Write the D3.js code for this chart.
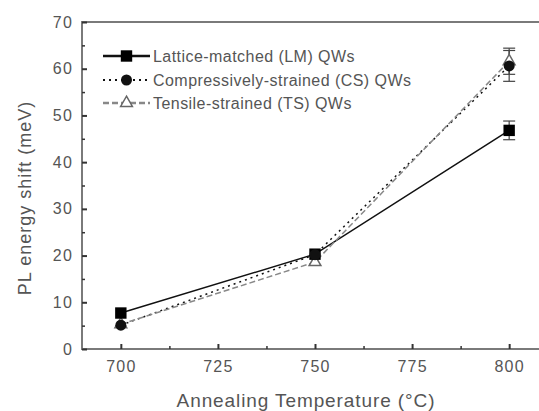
<!DOCTYPE html>
<html><head><meta charset="utf-8">
<script src="https://cdn.jsdelivr.net/npm/d3@7"></script>
<style>body{margin:0;background:#fff}svg{display:block}text{font-family:"Liberation Sans",Arial,sans-serif}</style>
</head><body><svg id="c" width="539" height="411"></svg>
<script>
const temps = [700, 750, 800];
const lmValues = [7.7, 20.3, 46.8];
const lmErrors = [0, 0, 2.0];
const csValues = [5.1, 20.2, 60.6];
const csErrors = [0, 0, 3.3];
const tsValues = [5.3, 18.6, 61.6];
const tsErrors = [0, 0, 2.8];
const xTicks = [700, 725, 750, 775, 800];
const yTicks = [0, 10, 20, 30, 40, 50, 60, 70];
const legendLabels = ["Lattice-matched (LM) QWs", "Compressively-strained (CS) QWs", "Tensile-strained (TS) QWs"];
const xLabel = "Annealing Temperature (\u00B0C)";
const yLabel = "PL energy shift (meV)";

const svg = d3.select("#c");
const x = d3.scaleLinear().domain([690, 810]).range([82, 548]);
const y = d3.scaleLinear().domain([0, 70]).range([349, 22]);
const axisCol = "#7a7a7a", textCol = "#555";

// frame
svg.append("rect").attr("x", x(690)).attr("y", y(70)).attr("width", x(810) - x(690)).attr("height", y(0) - y(70))
  .attr("fill", "none").attr("stroke", axisCol).attr("stroke-width", 2);

// bottom axis ticks (inward)
const xb = svg.append("g").attr("transform", `translate(0,${y(0)})`)
  .call(d3.axisBottom(x).tickValues(xTicks).tickSize(-5).tickPadding(12).tickFormat(d3.format("d")));
xb.select(".domain").remove();
xb.selectAll("line").attr("stroke", "#333").attr("stroke-width", 2);
xb.selectAll("text").attr("font-size", 16).attr("letter-spacing", 1.2).attr("fill", textCol);
const xMinor = d3.range(0, xTicks.length - 1).map(i => (xTicks[i] + xTicks[i + 1]) / 2);
const xm = svg.append("g").attr("transform", `translate(0,${y(0)})`)
  .call(d3.axisBottom(x).tickValues(xMinor).tickSize(-3).tickFormat(""));
xm.select(".domain").remove();
xm.selectAll("line").attr("stroke", "#333").attr("stroke-width", 1.5);

// left axis
const yl = svg.append("g").attr("transform", `translate(${x(690)},0)`)
  .call(d3.axisLeft(y).tickValues(yTicks).tickSize(-5).tickPadding(9).tickFormat(d3.format("d")));
yl.select(".domain").remove();
yl.selectAll("line").attr("stroke", "#333").attr("stroke-width", 2);
yl.selectAll("text").attr("font-size", 16).attr("letter-spacing", 1.2).attr("fill", textCol);
const yMinor = d3.range(0, yTicks.length - 1).map(i => (yTicks[i] + yTicks[i + 1]) / 2);
const ym = svg.append("g").attr("transform", `translate(${x(690)},0)`)
  .call(d3.axisLeft(y).tickValues(yMinor).tickSize(-3).tickFormat(""));
ym.select(".domain").remove();
ym.selectAll("line").attr("stroke", "#333").attr("stroke-width", 1.5);

// axis labels
svg.append("text").attr("x", 306).attr("y", 407).attr("text-anchor", "middle")
  .attr("font-size", 19).attr("letter-spacing", 0.9).attr("fill", textCol).text(xLabel);
svg.append("text").attr("transform", "translate(31,198) rotate(-90)").attr("text-anchor", "middle")
  .attr("font-size", 18).attr("letter-spacing", 1).attr("fill", textCol).text(yLabel);

const series = [
  {vals: lmValues, errs: lmErrors, color: "#111", dash: null, width: 1.5, marker: "square"},
  {vals: csValues, errs: csErrors, color: "#111", dash: "2,4", width: 1.5, marker: "circle"},
  {vals: tsValues, errs: tsErrors, color: "#888", dash: "6,3", width: 1.5, marker: "triangle"}
];
const line = d3.line().x((d, i) => x(temps[i])).y(d => y(d));

function drawMarker(g, type, cx, cy, col) {
  if (type === "square") {
    g.append("path").attr("d", d3.symbol(d3.symbolSquare, 130)()).attr("transform", `translate(${cx},${cy})`).attr("fill", "#000");
  } else if (type === "circle") {
    g.append("path").attr("d", d3.symbol(d3.symbolCircle, 95)()).attr("transform", `translate(${cx},${cy})`).attr("fill", "#111");
  } else {
    g.append("path").attr("d", d3.symbol(d3.symbolTriangle, 60)()).attr("transform", `translate(${cx},${cy})`)
      .attr("fill", "#fff").attr("stroke", "#666").attr("stroke-width", 1.5);
  }
}

// lines
series.forEach(s => {
  svg.append("path").attr("d", line(s.vals)).attr("fill", "none").attr("stroke", s.color)
    .attr("stroke-width", s.width).attr("stroke-dasharray", s.dash);
});
// error bars
series.forEach(s => {
  s.vals.forEach((v, i) => {
    if (!s.errs[i]) return;
    const g = svg.append("g").attr("stroke", "#444").attr("stroke-width", 1.2);
    const cx = x(temps[i]);
    g.append("line").attr("x1", cx).attr("x2", cx).attr("y1", y(v - s.errs[i])).attr("y2", y(v + s.errs[i]));
    [v - s.errs[i], v + s.errs[i]].forEach(e => g.append("line").attr("x1", cx - 6).attr("x2", cx + 6).attr("y1", y(e)).attr("y2", y(e)));
  });
});
// markers: TS first, then LM, CS on top
[2, 0, 1].forEach(k => {
  const s = series[k];
  s.vals.forEach((v, i) => drawMarker(svg, s.marker, x(temps[i]), y(v), s.color));
});

// legend
const legY = [56, 80, 103];
series.forEach((s, k) => {
  const g = svg.append("g");
  g.append("line").attr("x1", 103).attr("x2", 150).attr("y1", legY[k]).attr("y2", legY[k])
    .attr("stroke", s.color).attr("stroke-width", k === 1 ? 2 : 2.5).attr("stroke-dasharray", s.dash);
  drawMarker(g, s.marker, 126.5, legY[k], s.color);
  g.append("text").attr("x", 153).attr("y", legY[k] + 5.5).attr("font-size", 16).attr("letter-spacing", 0.45)
    .attr("fill", textCol).text(legendLabels[k]);
});
</script></body></html>
